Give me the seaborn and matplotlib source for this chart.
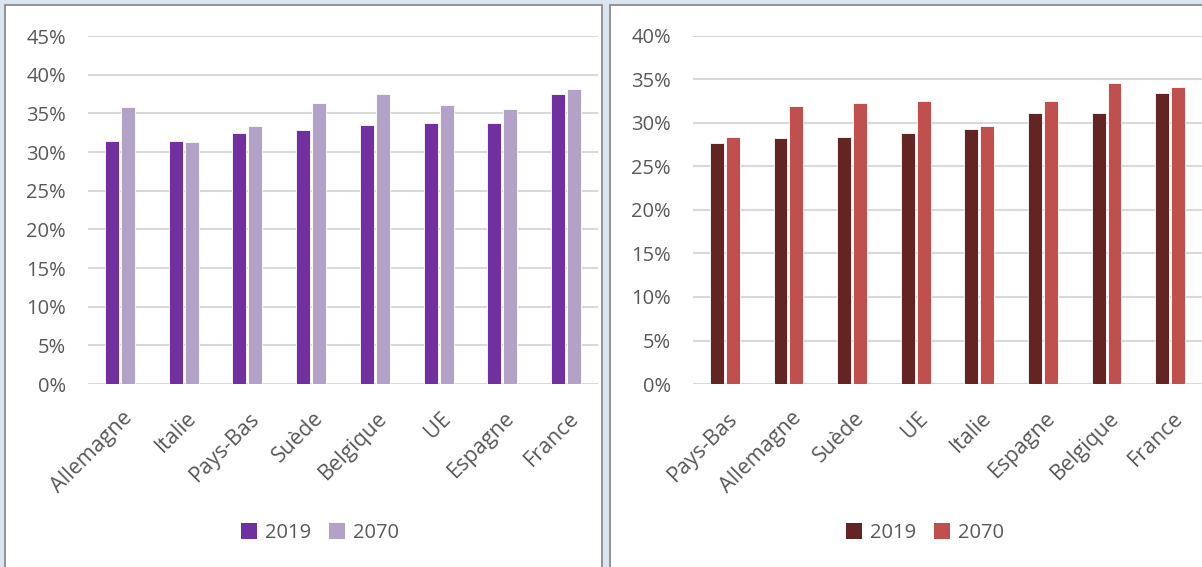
import matplotlib
matplotlib.use("Agg")
import matplotlib.pyplot as plt
import matplotlib.transforms as mtransforms
from matplotlib.patches import Rectangle, Patch
from matplotlib.ticker import FuncFormatter
import seaborn as sns
import pandas as pd

# ---- data ----
left_countries = ["Allemagne", "Italie", "Pays-Bas", "Suède", "Belgique", "UE", "Espagne", "France"]
left_2019 = [31.4, 31.4, 32.4, 32.8, 33.5, 33.7, 33.8, 37.5]
left_2070 = [35.8, 31.3, 33.3, 36.3, 37.5, 36.1, 35.6, 38.2]

right_countries = ["Pays-Bas", "Allemagne", "Suède", "UE", "Italie", "Espagne", "Belgique", "France"]
right_2019 = [27.7, 28.3, 28.4, 28.9, 29.3, 31.1, 31.2, 33.4]
right_2070 = [28.4, 32.0, 32.3, 32.5, 29.6, 32.5, 34.6, 34.1]

years = ["2019", "2070"]
left_colors = ["#7030a0", "#b3a2c7"]
right_colors = ["#632523", "#c0504d"]

sns.set_theme(style="white")
plt.rcParams['font.family'] = ['Open Sans', 'DejaVu Sans']

W, H = 1202, 567
fig = plt.figure(figsize=(W / 100, H / 100), dpi=100)
fig.patch.set_facecolor("#dbe5f1")

def px(x0, y0, w, h):
    return [x0 / W, 1 - (y0 + h) / H, w / W, h / H]

# panels
for (x0, y0, w, h) in [(5, 5, 597, 570), (610, 5, 600, 570)]:
    fig.patches.append(Rectangle((x0 / W, 1 - (y0 + h) / H), w / W, h / H,
                                 transform=fig.transFigure, facecolor="white",
                                 edgecolor="#8c8c8c", linewidth=1.3, zorder=-5))

def draw(ax, countries, v19, v70, colors, ymax):
    df = pd.DataFrame({
        "pays": countries * 2,
        "annee": [years[0]] * len(countries) + [years[1]] * len(countries),
        "val": list(v19) + list(v70),
    })
    sns.barplot(data=df, x="pays", y="val", hue="annee", palette=colors,
                saturation=1, width=0.5, gap=0.13, ax=ax, legend=False,
                edgecolor="white", linewidth=0.6)
    ax.set_ylim(0, ymax)
    ax.set_xlim(-0.5, len(countries) - 0.5)
    ax.set_yticks(range(0, ymax + 1, 5))
    ax.yaxis.set_major_formatter(FuncFormatter(lambda v, p: f"{v:.0f}%"))
    ax.grid(axis="y", color="#d9d9d9", linewidth=1.5)
    ax.set_axisbelow(True)
    for s in ax.spines.values():
        s.set_visible(False)
    ax.set_xlabel("")
    ax.set_ylabel("")
    ax.patch.set_alpha(0)
    ax.tick_params(axis="y", length=0, pad=16, labelsize=14.5, labelcolor="#595959")
    ax.tick_params(axis="x", length=0, pad=17, labelsize=15.5, labelcolor="#595959")
    offset = mtransforms.ScaledTranslation(2 / 100, 0, fig.dpi_scale_trans)
    for lab in ax.get_xticklabels():
        lab.set_rotation(45)
        lab.set_ha("right")
        lab.set_rotation_mode("anchor")
        lab.set_transform(lab.get_transform() + offset)

ax1 = fig.add_axes(px(88, 36, 510, 348))
draw(ax1, left_countries, left_2019, left_2070, left_colors, 45)
ax2 = fig.add_axes(px(693, 36, 509, 348))
draw(ax2, right_countries, right_2019, right_2070, right_colors, 40)

for cols, cx in [(left_colors, 320), (right_colors, 925)]:
    handles = [Patch(facecolor=c, edgecolor="none") for c in cols]
    fig.legend(handles, years, loc="center", bbox_to_anchor=(cx / W, 1 - 533 / H),
               ncol=2, frameon=False, fontsize=14.5, labelcolor="#595959",
               handlelength=0.8, handleheight=0.8, handletextpad=0.4,
               columnspacing=0.9)

fig.savefig("out.png", dpi=100, facecolor=fig.get_facecolor())
